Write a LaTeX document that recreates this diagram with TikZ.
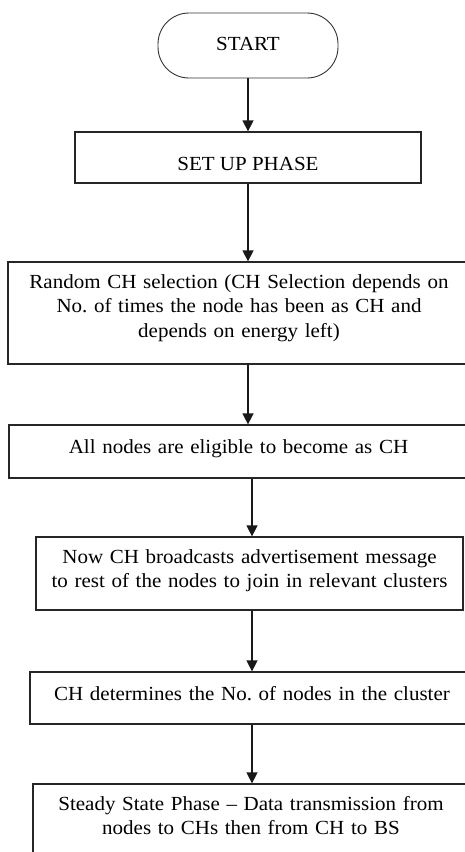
\documentclass[tikz,border=0pt]{standalone}
\usepackage{fontspec}
\setmainfont{Liberation Serif}[FakeStretch=1.05]
\usetikzlibrary{arrows.meta}
\begin{document}
\begin{tikzpicture}[x=1pt,y=-1pt,
  every node/.style={font=\fontsize{20}{24.5}\selectfont, inner sep=0pt, align=center},
  box/.style={draw=black!85, line width=1.3pt, rectangle},
  term/.style={draw=black!80, line width=0.9pt, rounded corners=31pt},
  arr/.style={draw=black!90, line width=1.5pt, -{Triangle[length=11pt,width=11pt]}}]
\useasboundingbox (0,0) rectangle (465,852);
\fill[white] (0,0) rectangle (465,852);
\node[term, minimum width=180pt, minimum height=65pt, text height=14pt, text depth=5pt]
  (start) at (248,45.5) {START};
\node[box, minimum width=346pt, minimum height=51pt, text height=27pt, text depth=2pt]
  (setup) at (248,157.5) {SET UP PHASE};
\node[box, minimum width=462pt, minimum height=102pt, text width=450pt, text height=14pt, text depth=63.4pt]
  (rand) at (239,313) {Random CH selection (CH Selection depends on\\No.\ of times the node has been as CH and\\depends on energy left)};
\node[box, minimum width=459pt, minimum height=53pt, text width=450pt, text height=14pt, text depth=11pt]
  (all) at (238.5,451.5) {All nodes are eligible to become as CH};
\node[box, minimum width=427pt, minimum height=73pt, text width=420pt, text height=14pt, text depth=35pt]
  (now) at (249.5,573.5) {Now CH broadcasts advertisement message\\to rest of the nodes to join in relevant clusters};
\node[box, minimum width=444pt, minimum height=52pt, text width=436pt, text height=14pt, text depth=10pt]
  (chd) at (252,698) {CH determines the No.\ of nodes in the cluster};
\node[box, minimum width=436pt, minimum height=76pt, text width=430pt, text height=14pt, text depth=38pt]
  (steady) at (251,822) {Steady State Phase \textendash{} Data transmission from\\nodes to CHs then from CH to BS};
\draw[arr] (start.south) -- (start.south |- setup.north);
\draw[arr] (setup.south) -- (setup.south |- rand.north);
\draw[arr] (setup.south |- rand.south) -- (setup.south |- all.north);
\draw[arr] (chd.north |- all.south) -- (chd.north |- now.north);
\draw[arr] (chd.north |- now.south) -- (chd.north);
\draw[arr] (chd.south) -- (chd.south |- steady.north);
\end{tikzpicture}
\end{document}
